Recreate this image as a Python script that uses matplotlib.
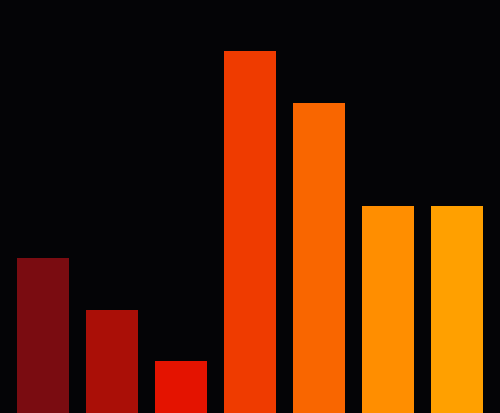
import matplotlib
matplotlib.use("Agg")
import matplotlib.pyplot as plt

categories = ["A", "B", "C", "D", "E", "F", "G"]
values = [3, 2, 1, 7, 6, 4, 4]
colors = ["#7a0c11", "#aa0f07", "#e41300", "#ef3b00", "#f96600", "#ff8e00", "#ffa000"]

fig = plt.figure(figsize=(5.0, 4.14), dpi=100)
fig.patch.set_facecolor("#040406")
ax = fig.add_axes([0, 0, 1, 1])
ax.set_facecolor("#040406")
x = list(range(len(categories)))
ax.bar(x, values, width=0.754, color=colors)
ax.set_xlim(-0.623, len(categories) - 1 + 0.623)
ax.set_ylim(0, 8)
ax.axis("off")
fig.savefig("out.png", dpi=100, facecolor=fig.get_facecolor())
